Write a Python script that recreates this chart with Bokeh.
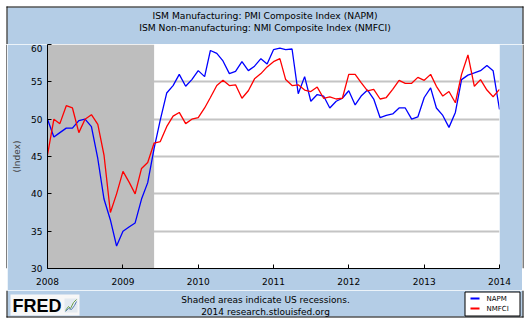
import pandas as pd
from bokeh.plotting import figure
from bokeh.layouts import column, row
from bokeh.models import (BoxAnnotation, FixedTicker, DatetimeTickFormatter, Range1d)
from bokeh.core.properties import value
from bokeh.embed import file_html
from bokeh.resources import INLINE

# ---- data (monthly, Jan 2008 .. Jan 2014) ----
dates = pd.date_range("2008-01-01", "2014-01-01", freq="MS")
napm = [50.0, 47.6, 48.2, 48.8, 48.8, 49.8, 50.0, 49.0, 44.7, 39.3, 36.5, 33.0,
        35.0, 35.6, 36.1, 39.3, 41.5, 46.1, 49.9, 53.5, 54.5, 56.0, 54.4, 55.3,
        56.5, 55.7, 59.2, 58.8, 57.8, 56.1, 56.4, 57.7, 56.5, 57.1, 58.1, 57.4,
        59.3, 59.5, 59.3, 59.4, 53.4, 55.7, 52.4, 53.3, 53.1, 51.5, 52.4, 52.8,
        53.8, 51.9, 53.1, 53.9, 52.7, 50.2, 50.5, 50.7, 51.5, 51.5, 50.0, 50.3,
        52.9, 54.2, 51.5, 50.5, 48.9, 50.9, 55.3, 55.9, 56.2, 56.5, 57.2, 56.5,
        51.3]
nmfci = [45.2, 50.0, 49.4, 51.8, 51.5, 48.2, 50.0, 50.6, 49.3, 45.2, 37.5, 40.0,
         43.0, 41.5, 40.0, 43.4, 44.2, 46.8, 47.0, 49.0, 50.4, 50.9, 49.4, 50.0,
         50.2, 51.5, 52.9, 54.5, 55.2, 54.5, 54.6, 52.8, 53.8, 55.4, 56.1, 57.0,
         57.7, 58.1, 55.3, 54.5, 54.6, 53.9, 53.7, 54.3, 52.8, 53.0, 52.7, 52.8,
         56.0, 56.0, 54.9, 53.8, 54.0, 52.7, 52.9, 54.0, 55.2, 54.8, 54.8, 55.6,
         55.2, 56.0, 54.4, 53.1, 53.7, 52.2, 56.0, 58.6, 54.4, 55.3, 53.9, 53.0,
         54.0]
recession_start = "2007-12-01"
recession_end = "2009-06-01"
year_ticks = ["2008", "2009", "2010", "2011", "2012", "2013", "2014"]
y_ticks = [30, 35, 40, 45, 50, 55, 60]
series_names = ["NAPM", "NMFCI"]
series_colors = ["#0000FF", "#FF0000"]
title_lines = ["ISM Manufacturing: PMI Composite Index (NAPM)",
               "ISM Non-manufacturing: NMI Composite Index (NMFCI)"]
footer_lines = ["Shaded areas indicate US recessions.",
                "2014 research.stlouisfed.org"]

BG = "#B4CDE6"
FONT = "DejaVu Sans"
W, H = 529, 324
TOP_H, MID_H = 44, 246
BOT_H = H - TOP_H - MID_H
BL, BR, BB = 6, 522, 316   # outer black frame (page px)


def plain(width, height, xr, yr):
    f = figure(width=width, height=height, x_range=xr, y_range=yr,
               x_axis_location=None, y_axis_location=None,
               output_backend="svg", toolbar_location=None, min_border=0)
    f.grid.visible = False
    f.outline_line_color = None
    f.background_fill_color = "white"
    f.border_fill_color = "white"
    return f


# ---- top band with titles ----
top = plain(W, TOP_H, Range1d(0, W), Range1d(TOP_H, 0))
top.quad(left=[BL + 1], right=[BR], top=[BL + 1], bottom=[TOP_H], fill_color=BG, line_color=None)
top.segment(x0=[BL, BL + 0.5, BR + 0.5], y0=[BL + 0.5, BL, BL],
            x1=[BR + 1, BL + 0.5, BR + 0.5], y1=[BL + 0.5, TOP_H, TOP_H],
            line_color="black", line_width=1)
top.text(x=[264.5, 264.5], y=[15, 27], text=title_lines, text_align="center",
         text_baseline="middle", text_font=value(FONT), text_font_size="9.2px",
         text_color="black")

# ---- side strips (white margin + black frame line) ----
lstrip = plain(BL + 1, MID_H, Range1d(0, BL + 1), Range1d(0, 1))
lstrip.quad(left=[BL], right=[BL + 1], top=[1], bottom=[0], fill_color="black", line_color=None)
rstrip = plain(W - BR, MID_H, Range1d(0, W - BR), Range1d(0, 1))
rstrip.quad(left=[0], right=[1], top=[1], bottom=[0], fill_color="black", line_color=None)

# ---- main chart ----
p = figure(width=BR - BL - 1, height=MID_H, x_axis_type="datetime", output_backend="svg",
           toolbar_location=None,
           x_range=Range1d(dates[0], dates[-1]), y_range=Range1d(30, 60),
           min_border_left=40, min_border_right=23, min_border_top=0,
           min_border_bottom=22)
p.border_fill_color = BG
p.background_fill_color = "white"
p.outline_line_color = None
p.xgrid.visible = False
p.ygrid.ticker = FixedTicker(ticks=y_ticks)
p.ygrid.grid_line_color = "#C4C4C4"
p.ygrid.grid_line_width = 2

p.yaxis.ticker = FixedTicker(ticks=y_ticks)
p.xaxis.ticker = FixedTicker(ticks=[pd.Timestamp(y + "-01-01").value / 1e6 for y in year_ticks])
fmt = "%Y"
p.xaxis.formatter = DatetimeTickFormatter(years=fmt, months=fmt, days=fmt, hours=fmt,
                                          hourmin=fmt, minutes=fmt, minsec=fmt,
                                          seconds=fmt, milliseconds=fmt, microseconds=fmt)
for ax in (p.xaxis[0], p.yaxis[0]):
    ax.axis_line_color = "black"
    ax.major_tick_in = 4
    ax.major_tick_out = 0
    ax.minor_tick_line_color = None
    ax.major_tick_line_color = "black"
    ax.major_label_text_font = FONT
    ax.major_label_text_font_size = "9px"
    ax.major_label_text_color = "black"
p.xaxis.major_label_standoff = 9
p.yaxis.major_label_standoff = 5
p.yaxis.axis_label = "(Index)"
p.yaxis.axis_label_text_font = FONT
p.yaxis.axis_label_text_font_size = "9px"
p.yaxis.axis_label_text_font_style = "normal"
p.yaxis.axis_label_standoff = 6

rec_left = max(pd.Timestamp(recession_start), dates[0])
p.add_layout(BoxAnnotation(left=rec_left, right=pd.Timestamp(recession_end),
                           fill_color="#BEBEBE", fill_alpha=1, line_color=None,
                           level="underlay"))
p.line(dates, napm, line_color=series_colors[0], line_width=1.3)
p.line(dates, nmfci, line_color=series_colors[1], line_width=1.3)

# ---- bottom band: logo, footer, legend ----
y0 = TOP_H + MID_H
bot = plain(W, BOT_H, Range1d(0, W), Range1d(H, y0))
bot.quad(left=[BL + 1], right=[BR], top=[y0], bottom=[BB], fill_color=BG, line_color=None)
bot.segment(x0=[BL + 0.5, BR + 0.5, BL], y0=[y0, y0, BB + 0.5],
            x1=[BL + 0.5, BR + 0.5, BR + 1], y1=[BB + 1, BB + 1, BB + 0.5],
            line_color="black", line_width=1)
bot.text(x=[265, 265], y=[299.5, 311.5], text=footer_lines, text_align="center",
         text_baseline="middle", text_font=value(FONT), text_font_size="9px",
         text_color="black")
# FRED logo
bot.quad(left=[10], right=[79], top=[294], bottom=[315], fill_color="#F7F7F7",
         line_color=None)
bot.text(x=[12], y=[305], text=["FRED"], text_font=value("Liberation Sans"),
         text_font_style="bold", text_font_size="18px", text_color="black",
         text_baseline="middle")
bot.quad(left=[64], right=[77], top=[298], bottom=[312], fill_color="#E3EAF0",
         line_color=None)
bot.line(x=[65, 68, 70, 73, 76], y=[310, 306, 308, 302, 299],
         line_color="#6E9E4A", line_width=1)
bot.line(x=[65, 68, 71, 74, 76], y=[311, 308, 309, 305, 301],
         line_color="#5A7FB0", line_width=1)
# legend
bot.quad(left=[464.5], right=[519.5], top=[291.5], bottom=[315.5], fill_color="white",
         line_color="black", line_width=1)
bot.segment(x0=[470, 470], y0=[298, 308], x1=[479, 479], y1=[298, 308],
            line_color=series_colors, line_width=2)
bot.text(x=[486, 486], y=[298, 308], text=series_names, text_baseline="middle",
         text_font=value(FONT), text_font_size="7px", text_color="black")

root = column(top, row(lstrip, p, rstrip), bot)
open("out.html", "w").write(file_html(root, INLINE))
